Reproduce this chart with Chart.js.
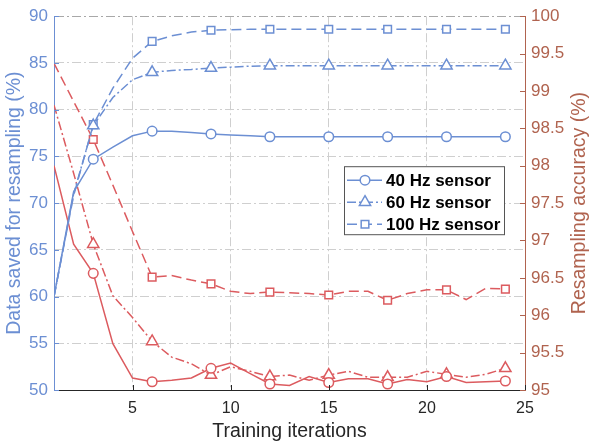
<!DOCTYPE html>
<html>
<head>
<meta charset="utf-8">
<script src="https://cdn.jsdelivr.net/npm/chart.js@4.4.1/dist/chart.umd.min.js"></script>
<style>
  body { margin: 0; background: #fff; }
</style>
</head>
<body>
<canvas id="myChart" width="590" height="444"></canvas>
<script>
// data
var iterations = [1, 2, 3, 4, 5, 6, 7, 8, 9, 10, 11, 12, 13, 14, 15, 16, 17, 18, 19, 20, 21, 22, 23, 24];
// data saved for resampling (%), left axis
var saved40 = [60, 71.2, 74.7, 76.0, 77.2, 77.7, 77.7, 77.55, 77.4, 77.3, 77.2, 77.1, 77.1, 77.1, 77.1, 77.1, 77.1, 77.1, 77.1, 77.1, 77.1, 77.1, 77.1, 77.1];
var saved60 = [60, 71.0, 78.3, 81.3, 83.2, 84.0, 84.2, 84.3, 84.45, 84.55, 84.65, 84.7, 84.7, 84.7, 84.7, 84.7, 84.7, 84.7, 84.7, 84.7, 84.7, 84.7, 84.7, 84.7];
var saved100 = [60, 70.8, 78.4, 82.3, 85.5, 87.3, 87.9, 88.3, 88.5, 88.55, 88.6, 88.6, 88.6, 88.6, 88.6, 88.6, 88.6, 88.6, 88.6, 88.6, 88.6, 88.6, 88.6, 88.6];
// resampling accuracy (%), right axis
var acc40 = [98.0, 96.95, 96.56, 95.62, 95.16, 95.11, 95.13, 95.16, 95.29, 95.36, 95.22, 95.08, 95.06, 95.18, 95.10, 95.15, 95.15, 95.08, 95.14, 95.11, 95.18, 95.10, 95.11, 95.12];
var acc60 = [98.81, 97.9, 96.95, 96.26, 95.97, 95.65, 95.44, 95.35, 95.2, 95.31, 95.25, 95.18, 95.2, 95.13, 95.2, 95.25, 95.17, 95.17, 95.17, 95.25, 95.21, 95.17, 95.21, 95.29];
var acc100 = [99.37, 98.86, 98.35, 97.74, 97.12, 96.51, 96.53, 96.47, 96.42, 96.32, 96.29, 96.31, 96.30, 96.29, 96.27, 96.32, 96.32, 96.2, 96.29, 96.34, 96.34, 96.21, 96.36, 96.35];

var xTicks = [5, 10, 15, 20, 25];
var leftTicks = [50, 55, 60, 65, 70, 75, 80, 85, 90];
var rightTicks = [95, 95.5, 96, 96.5, 97, 97.5, 98, 98.5, 99, 99.5, 100];
var seriesNames = ['40 Hz sensor', '60 Hz sensor', '100 Hz sensor'];
var rightTitle = 'Resampling accuracy (%)';

var blue = '#6c8fd3', red = '#dc5b5f', brown = '#b0634f', dark = '#262626', gridGray = '#cfcfcf';
var fontFamily = '"Liberation Sans", Arial, Helvetica, sans-serif';

function pts(vals) {
  return iterations.map(function(x, i) { return { x: x, y: vals[i] }; });
}
// marker on every third iteration
function every3(r) {
  return function(c) { return (c.dataIndex + 1) % 3 === 0 ? r : 0; };
}

var styles = [
  { dash: [], point: 'circle', r: 4.8 },
  { dash: [9, 3, 2, 3], point: 'triangle', r: 6.5 },
  { dash: [10, 5], point: 'rect', r: 5.4 }
];

function makeSet(label, vals, color, st, axis) {
  return {
    label: label,
    data: pts(vals),
    yAxisID: axis,
    borderColor: color,
    borderWidth: 1.5,
    borderDash: st.dash,
    pointStyle: st.point,
    pointRadius: every3(st.r),
    pointBorderWidth: 1.5,
    pointBorderColor: color,
    pointBackgroundColor: '#fff',
    tension: 0,
    fill: false
  };
}

// inward tick marks like the original figure
var innerTicks = {
  id: 'innerTicks',
  afterDatasetsDraw: function(chart) {
    var ctx = chart.ctx, a = chart.chartArea, s = chart.scales;
    ctx.save();
    ctx.lineWidth = 1;
    ctx.setLineDash([]);
    ctx.strokeStyle = blue;
    leftTicks.forEach(function(v) {
      var y = Math.round(s.y.getPixelForValue(v)) + 0.5;
      ctx.beginPath(); ctx.moveTo(a.left, y); ctx.lineTo(a.left + 5, y); ctx.stroke();
    });
    ctx.strokeStyle = brown;
    rightTicks.forEach(function(v) {
      var y = Math.round(s.y1.getPixelForValue(v)) + 0.5;
      ctx.beginPath(); ctx.moveTo(a.right, y); ctx.lineTo(a.right - 5, y); ctx.stroke();
    });
    ctx.strokeStyle = dark;
    xTicks.forEach(function(v) {
      var x = Math.round(s.x.getPixelForValue(v)) + 0.5;
      ctx.beginPath(); ctx.moveTo(x, a.bottom); ctx.lineTo(x, a.bottom - 5); ctx.stroke();
    });
    // right axis title, reading bottom to top as in the original
    ctx.fillStyle = brown;
    ctx.font = '19.5px ' + fontFamily;
    ctx.textAlign = 'center';
    ctx.textBaseline = 'middle';
    ctx.translate(chart.width - 10, (a.top + a.bottom) / 2);
    ctx.rotate(-Math.PI / 2);
    ctx.fillText(rightTitle, 0, 0);
    ctx.restore();
  }
};

function drawMarker(ctx, style, x, y, r) {
  ctx.beginPath();
  if (style === 'circle') {
    ctx.arc(x, y, r, 0, Math.PI * 2);
  } else if (style === 'triangle') {
    ctx.moveTo(x, y - r);
    ctx.lineTo(x + r * 0.866, y + r * 0.5);
    ctx.lineTo(x - r * 0.866, y + r * 0.5);
    ctx.closePath();
  } else {
    var h = r * Math.SQRT1_2;
    ctx.rect(x - h, y - h, 2 * h, 2 * h);
  }
  ctx.fill();
  ctx.stroke();
}

// boxed legend inside the plot
var boxLegend = {
  id: 'boxLegend',
  afterDraw: function(chart) {
    var ctx = chart.ctx, a = chart.chartArea;
    var lx = a.right - 181, ly = a.top + 150, w = 160, h = 68;
    ctx.save();
    ctx.fillStyle = '#fff';
    ctx.fillRect(lx, ly, w, h);
    ctx.strokeStyle = '#555';
    ctx.lineWidth = 1;
    ctx.strokeRect(lx + 0.5, ly + 0.5, w, h);
    seriesNames.forEach(function(name, i) {
      var st = styles[i];
      var y = ly + 14 + i * 22;
      ctx.strokeStyle = blue;
      ctx.lineWidth = 1.5;
      ctx.setLineDash(st.dash);
      ctx.beginPath(); ctx.moveTo(lx + 3, y); ctx.lineTo(lx + 38, y); ctx.stroke();
      ctx.setLineDash([]);
      ctx.fillStyle = '#fff';
      drawMarker(ctx, st.point, lx + 21, y, st.r);
      ctx.fillStyle = '#000';
      ctx.font = 'bold 17px ' + fontFamily;
      ctx.textBaseline = 'middle';
      ctx.fillText(name, lx + 42, y + 1);
    });
    ctx.restore();
  }
};

var ctx = document.getElementById('myChart');
var myChart = new Chart(ctx, {
  type: 'line',
  data: {
    datasets: [
      makeSet(seriesNames[0], saved40, blue, styles[0], 'y'),
      makeSet(seriesNames[1], saved60, blue, styles[1], 'y'),
      makeSet(seriesNames[2], saved100, blue, styles[2], 'y'),
      makeSet(seriesNames[0] + ' acc', acc40, red, styles[0], 'y1'),
      makeSet(seriesNames[1] + ' acc', acc60, red, styles[1], 'y1'),
      makeSet(seriesNames[2] + ' acc', acc100, red, styles[2], 'y1')
    ]
  },
  options: {
    responsive: false,
    animation: false,
    events: [],
    layout: { padding: { top: 12, left: 0, right: 0, bottom: 0 } },
    plugins: {
      legend: { display: false },
      tooltip: { enabled: false }
    },
    scales: {
      x: {
        type: 'linear',
        min: 1,
        max: 25,
        afterBuildTicks: function(s) { s.ticks = xTicks.map(function(v) { return { value: v }; }); },
        afterFit: function(s) { s.height = 54; },
        grid: { color: gridGray, drawTicks: false, z: -1 },
        border: { color: dark, width: 1, dash: [9, 3, 2, 3] },
        ticks: { color: dark, padding: 9, font: { size: 16, family: fontFamily }, maxRotation: 0 },
        title: { display: true, text: 'Training iterations', color: dark,
                 font: { size: 19.5, family: fontFamily, lineHeight: 1 }, padding: { top: 0, bottom: 3 } }
      },
      y: {
        position: 'left',
        min: 50,
        max: 90,
        afterBuildTicks: function(s) { s.ticks = leftTicks.map(function(v) { return { value: v }; }); },
        afterFit: function(s) { s.width = 54; },
        grid: {
          color: function(c) { return c.tick && c.tick.value === 90 ? '#a8a8a8' : gridGray; },
          drawTicks: false, z: -1
        },
        border: { color: blue, width: 1, dash: [9, 3, 2, 3] },
        ticks: { color: blue, padding: 6, font: { size: 17, family: fontFamily } },
        title: { display: true, text: 'Data saved for resampling (%)', color: blue,
                 font: { size: 19.5, family: fontFamily, lineHeight: 1 }, padding: { top: 5, bottom: 0 } }
      },
      y1: {
        position: 'right',
        min: 95,
        max: 100,
        afterBuildTicks: function(s) { s.ticks = rightTicks.map(function(v) { return { value: v }; }); },
        afterFit: function(s) { s.width = 65; },
        grid: { display: false, drawTicks: false },
        border: { color: brown, width: 1 },
        ticks: { color: brown, padding: 6, font: { size: 17, family: fontFamily },
                 callback: function(v) { return String(v); } },
        title: { display: false }
      }
    }
  },
  plugins: [innerTicks, boxLegend]
});
</script>
</body>
</html>
